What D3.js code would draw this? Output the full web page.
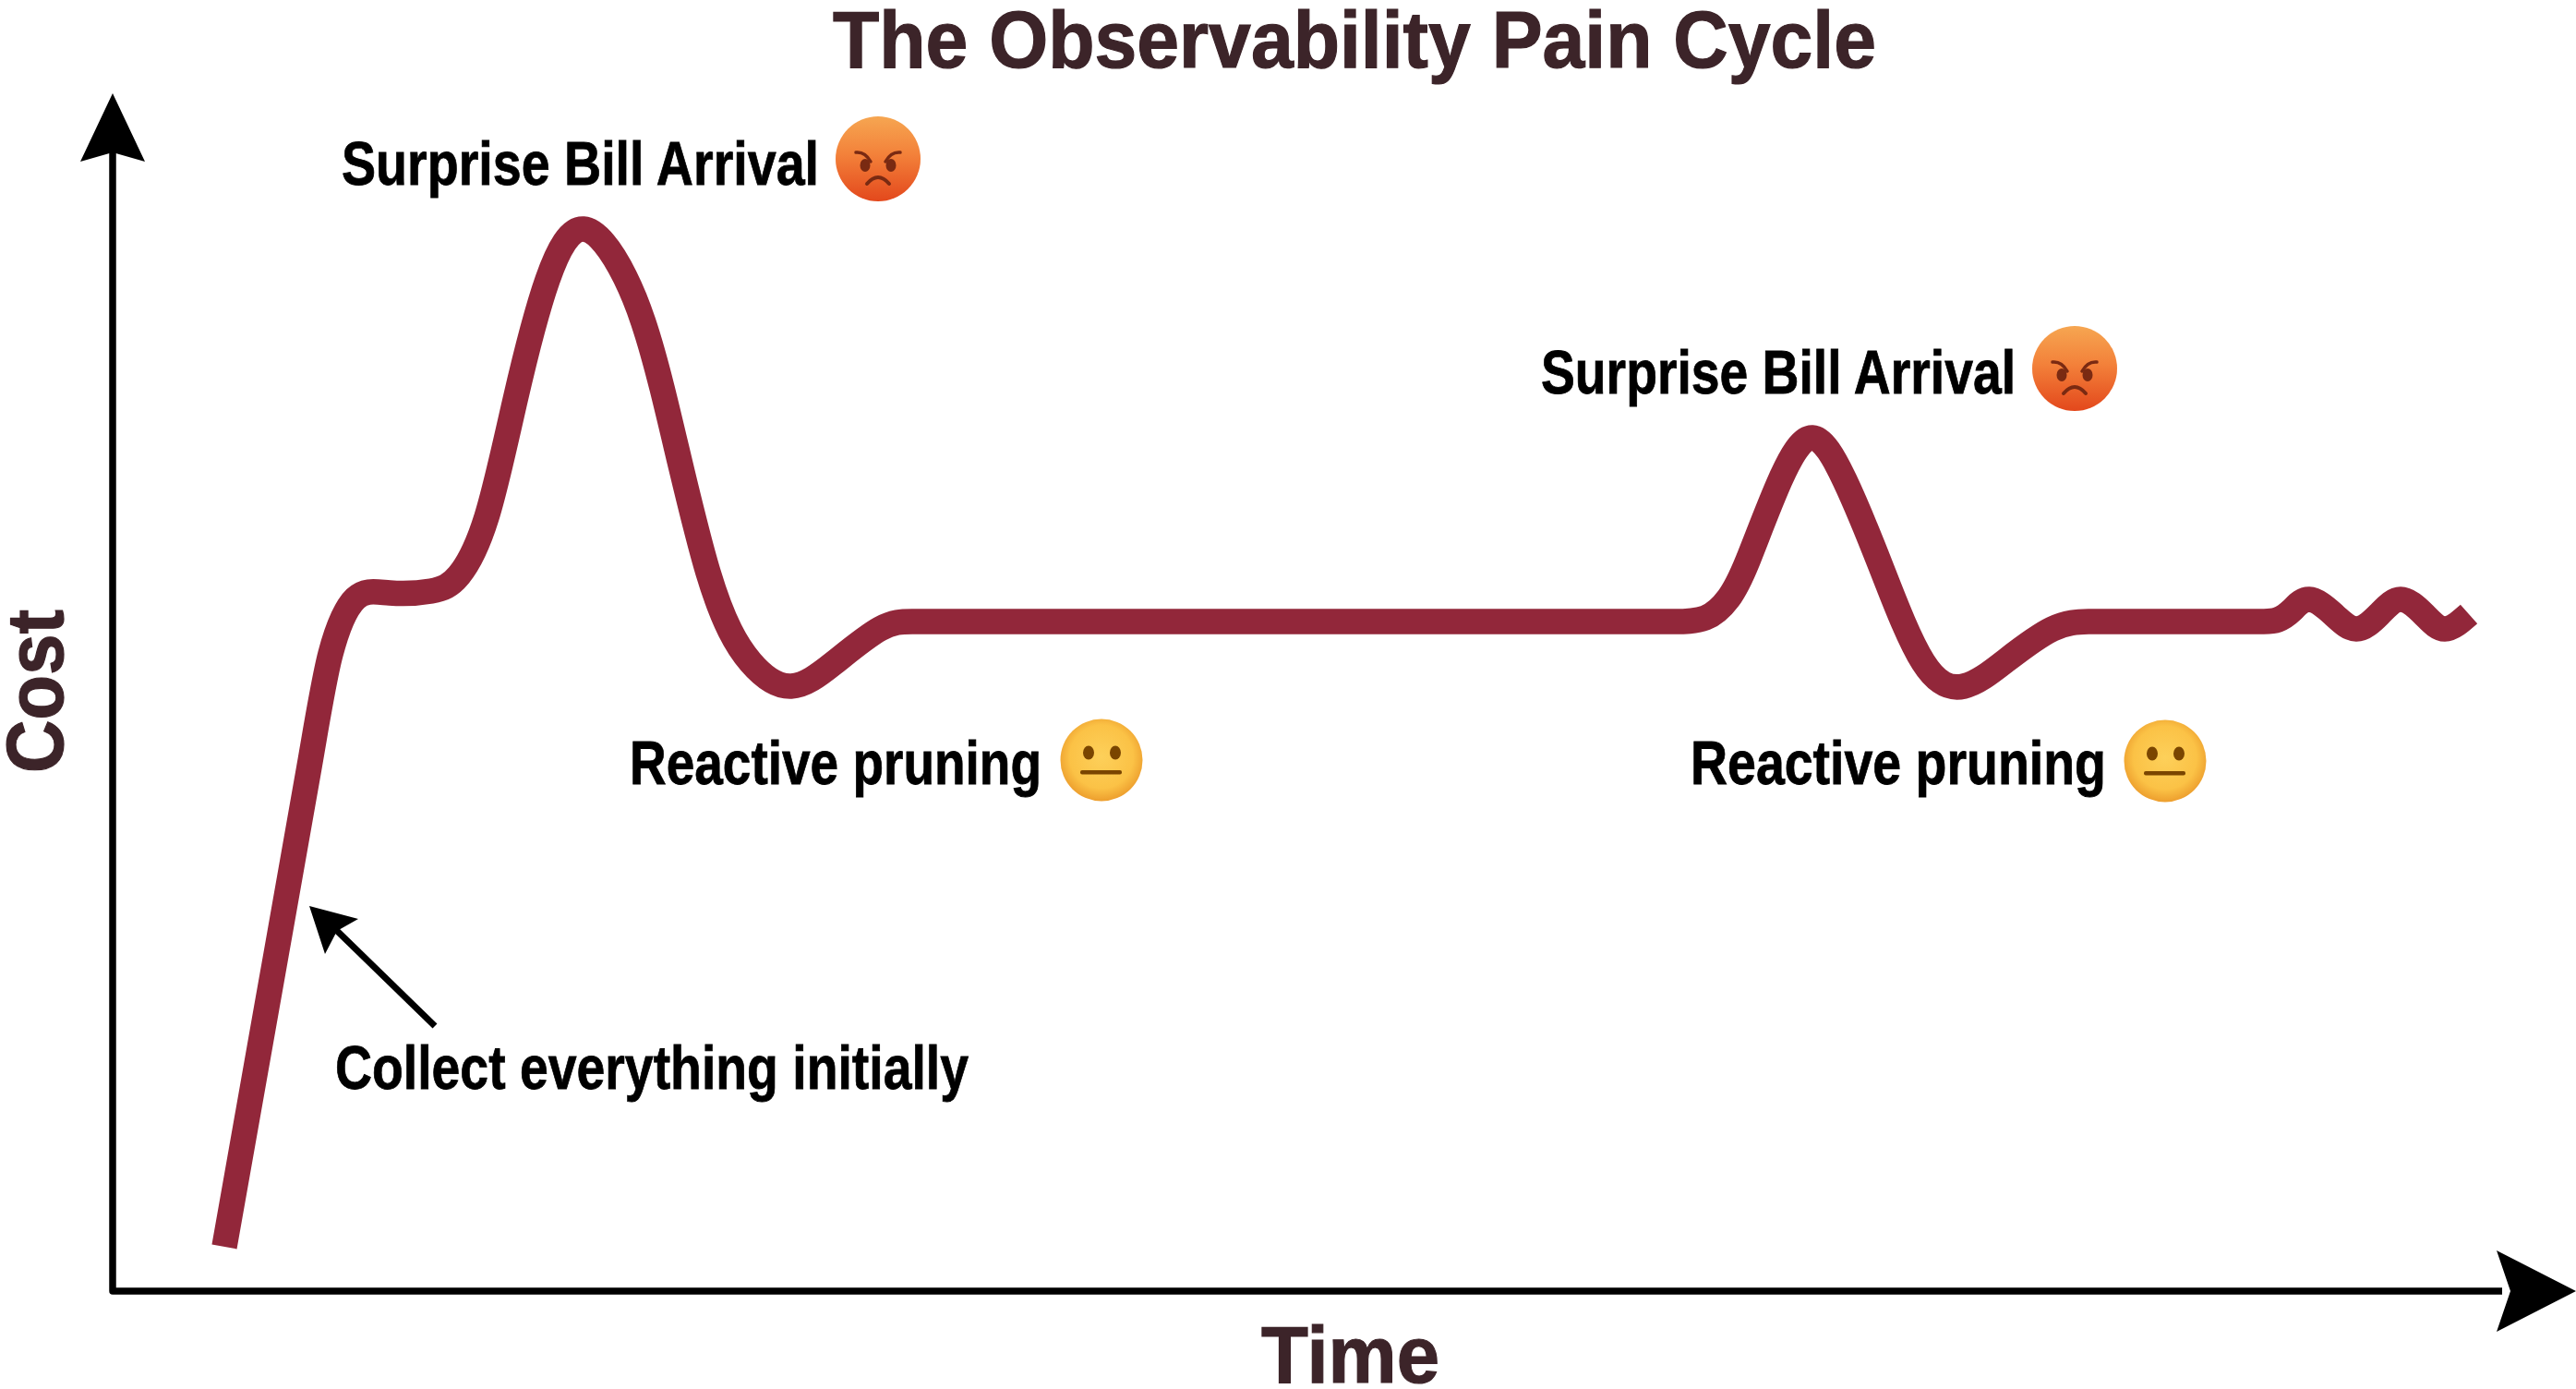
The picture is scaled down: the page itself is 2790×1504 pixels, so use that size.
<!DOCTYPE html>
<html>
<head>
<meta charset="utf-8">
<title>The Observability Pain Cycle</title>
<script src="https://cdn.jsdelivr.net/npm/d3@7"></script>
<style>
  html, body { margin: 0; padding: 0; background: #fff; }
  svg { display: block; }
  text { font-family: "Liberation Sans", Arial, sans-serif; font-weight: 700; }
</style>
</head>
<body>
<script>
// Curve readings: elapsed time and accumulated cost, in arbitrary units.
const timeValues = [121,167,213,236,263,300,345,375,405,436,471,510,555,595,645,691,735,781,831,866,910,1000,1150,1300,1500,1640,1690,1725,1750,1771,1806,1841,1876,1915,1961,2005,2051,2101,2140,2180,2240,2300,2330,2345,2360,2379,2405,2430,2455,2478,2503,2526,2552];
const costValues = [48,308,568,690,750,756,758,775,838,965,1095,1150,1098,978,778,681,655,680,717,725,725,725,725,725,725,725,725,729,750,791,878,924,878,785,681,655,683,717,725,725,725,725,725,727,737,749,733,717,733,749,733,717,733];

const chartTitle = "The Observability Pain Cycle";
const xAxisLabel = "Time";
const yAxisLabel = "Cost";
const annotationLabels = ["Surprise Bill Arrival", "Reactive pruning", "Surprise Bill Arrival", "Reactive pruning", "Collect everything initially"];
const annotationMoods = ["angry", "neutral", "angry", "neutral", null];
const annotationStartX = [370, 682, 1669, 1831, 363];
const annotationWidths = [517, 446, 514, 450, 686];
const annotationBaselines = [200, 849, 426, 849, 1179];
const emojiCentreX = [951, 1193, 2247, 2345];
const emojiCentreY = [172, 823, 399, 824];

const lineColour = "#92273a";
const inkColour = "#3c2429";
const W = 2790, H = 1504;

const x = d3.scaleLinear().domain([0, 2668]).range([122, 2790]);
const y = d3.scaleLinear().domain([0, 1297]).range([1398, 101]);

const svg = d3.select("body").append("svg").attr("width", W).attr("height", H).attr("viewBox", `0 0 ${W} ${H}`);
const defs = svg.append("defs");

const angryFill = defs.append("linearGradient").attr("id", "angryFace").attr("x1", 0).attr("y1", 0).attr("x2", 0).attr("y2", 1);
angryFill.append("stop").attr("offset", "0%").attr("stop-color", "#f6a651");
angryFill.append("stop").attr("offset", "45%").attr("stop-color", "#f3813a");
angryFill.append("stop").attr("offset", "100%").attr("stop-color", "#e3481c");

const neutralFill = defs.append("radialGradient").attr("id", "neutralFace").attr("cx", "50%").attr("cy", "46%").attr("r", "55%");
neutralFill.append("stop").attr("offset", "0%").attr("stop-color", "#fdd05a");
neutralFill.append("stop").attr("offset", "70%").attr("stop-color", "#fbc246");
neutralFill.append("stop").attr("offset", "100%").attr("stop-color", "#ec9c2c");

// Axes: one polyline with a rounded corner, plus a notched arrow head on each end.
const axisColour = "#000";
const xEnd = x.range()[1], yEnd = y.range()[1];
const x0 = x.range()[0], y0 = y.range()[0];
svg.append("path")
  .attr("d", d3.line()([[x0, yEnd + 60], [x0, y0], [xEnd - 80, y0]]))
  .attr("fill", "none").attr("stroke", axisColour).attr("stroke-width", 7.5).attr("stroke-linejoin", "round");
svg.append("path")
  .attr("d", `M${x0},${yEnd} L${x0 + 35},${yEnd + 74} L${x0},${yEnd + 64} L${x0 - 35},${yEnd + 74} Z`)
  .attr("fill", axisColour);
svg.append("path")
  .attr("d", `M${xEnd},${y0} L${xEnd - 86},${y0 + 44} L${xEnd - 71},${y0} L${xEnd - 86},${y0 - 44} Z`)
  .attr("fill", axisColour);

// Cost curve
const curve = d3.line()
  .x((d, i) => x(timeValues[i]))
  .y((d, i) => y(costValues[i]))
  .curve(d3.curveNatural);
svg.append("path")
  .datum(timeValues)
  .attr("d", curve)
  .attr("fill", "none")
  .attr("stroke", lineColour)
  .attr("stroke-width", 27.5)
  .attr("stroke-linecap", "butt")
  .attr("stroke-linejoin", "round");

// Pointer to the initial ramp
svg.append("path").attr("d", d3.line()([[471, 1111], [361, 1004]]))
  .attr("stroke", axisColour).attr("stroke-width", 7).attr("fill", "none");
svg.append("path").attr("d", "M335,981 L388,995 L365,1008 L352,1033 Z").attr("fill", axisColour);

// Title and axis labels
svg.append("text").text(chartTitle)
  .attr("x", 902).attr("y", 73)
  .attr("font-size", 88).attr("fill", inkColour)
  .attr("stroke", inkColour).attr("stroke-width", 1.2)
  .attr("textLength", 1130).attr("lengthAdjust", "spacingAndGlyphs");
svg.append("text").text(xAxisLabel)
  .attr("x", 1366).attr("y", 1497)
  .attr("font-size", 88).attr("fill", inkColour)
  .attr("stroke", inkColour).attr("stroke-width", 1.2)
  .attr("textLength", 193).attr("lengthAdjust", "spacingAndGlyphs");
svg.append("text").text(yAxisLabel)
  .attr("transform", "translate(68,837) rotate(-90)")
  .attr("font-size", 88).attr("fill", inkColour)
  .attr("stroke", inkColour).attr("stroke-width", 1.2)
  .attr("textLength", 177).attr("lengthAdjust", "spacingAndGlyphs");

// Annotations
annotationLabels.forEach((label, i) => {
  svg.append("text").text(label)
    .attr("x", annotationStartX[i]).attr("y", annotationBaselines[i])
    .attr("font-size", 66).attr("fill", "#000")
    .attr("stroke", "#000").attr("stroke-width", 0.8)
    .attr("textLength", annotationWidths[i]).attr("lengthAdjust", "spacingAndGlyphs");
});

// Emoji faces built from vector shapes so they render without an emoji font
function drawAngry(g) {
  g.append("circle").attr("r", 46).attr("fill", "url(#angryFace)");
  const dark = "#7a2a12";
  g.append("ellipse").attr("cx", -14).attr("cy", 7).attr("rx", 5.5).attr("ry", 7).attr("fill", dark);
  g.append("ellipse").attr("cx", 14).attr("cy", 7).attr("rx", 5.5).attr("ry", 7).attr("fill", dark);
  g.append("path").attr("d", "M-24,-7 Q-14,-8 -8,3").attr("stroke", dark).attr("stroke-width", 3.5).attr("fill", "none").attr("stroke-linecap", "round");
  g.append("path").attr("d", "M24,-7 Q14,-8 8,3").attr("stroke", dark).attr("stroke-width", 3.5).attr("fill", "none").attr("stroke-linecap", "round");
  g.append("path").attr("d", "M-12,27 Q0,13 12,27").attr("stroke", dark).attr("stroke-width", 4).attr("fill", "none").attr("stroke-linecap", "round");
}
function drawNeutral(g) {
  g.append("circle").attr("r", 44.5).attr("fill", "url(#neutralFace)");
  const dark = "#7a4500";
  g.append("ellipse").attr("cx", -14).attr("cy", -8).attr("rx", 6).attr("ry", 7.5).attr("fill", dark);
  g.append("ellipse").attr("cx", 15).attr("cy", -8).attr("rx", 6).attr("ry", 7.5).attr("fill", dark);
  g.append("rect").attr("x", -23).attr("y", 11).attr("width", 45).attr("height", 4.5).attr("rx", 2).attr("fill", dark);
}
annotationMoods.filter(Boolean).forEach((mood, i) => {
  const g = svg.append("g").attr("transform", `translate(${emojiCentreX[i]},${emojiCentreY[i]})`);
  (mood === "angry" ? drawAngry : drawNeutral)(g);
});
</script>
</body>
</html>
